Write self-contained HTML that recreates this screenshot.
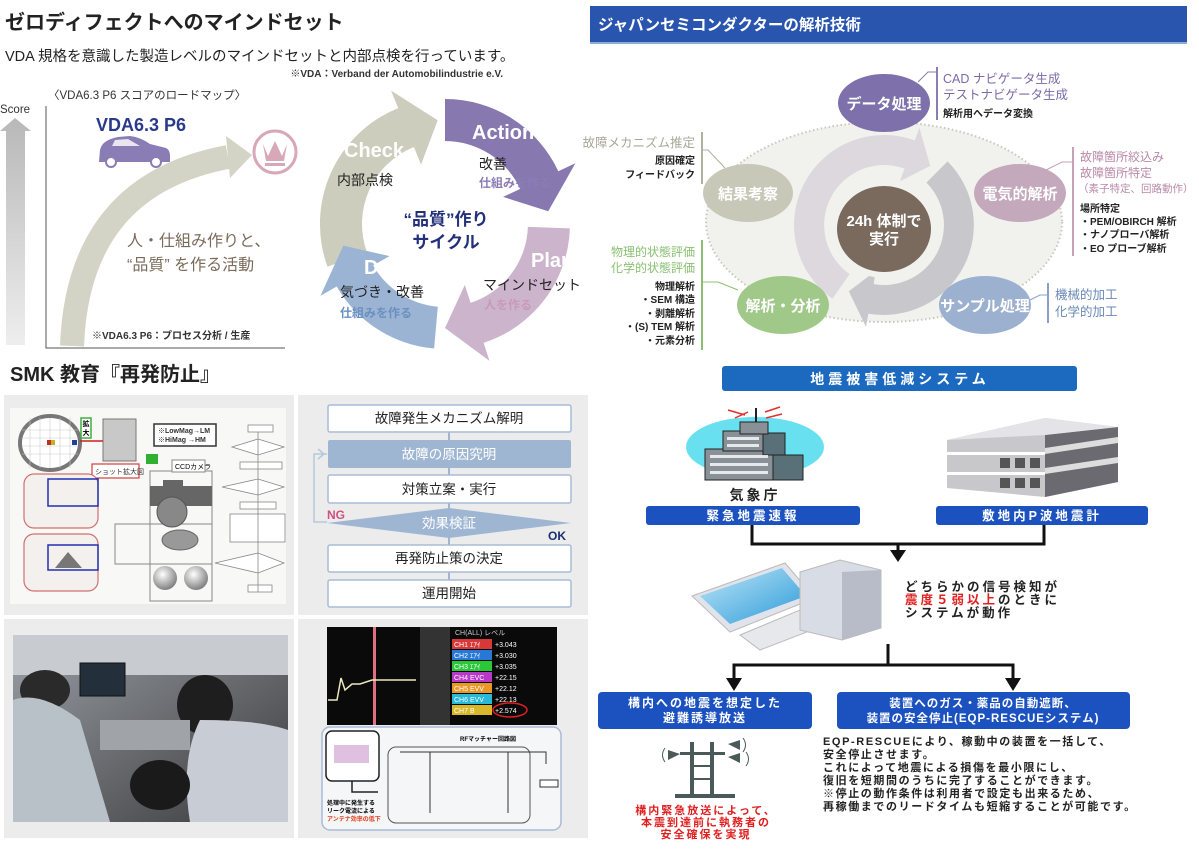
<!DOCTYPE html>
<html><head><meta charset="utf-8">
<style>
html,body{margin:0;padding:0;background:#fff;}
body{width:1199px;height:847px;overflow:hidden;position:relative;font-family:"Liberation Sans","Noto Sans CJK JP",sans-serif;}
svg text{font-family:"Liberation Sans","Noto Sans CJK JP",sans-serif;}
</style></head><body>
<svg id="s" width="1199" height="847" viewBox="0 0 1199 847" xmlns="http://www.w3.org/2000/svg">
<defs>
<linearGradient id="scoreg" x1="0" y1="0" x2="0" y2="1"><stop offset="0" stop-color="#b8b8b8"/><stop offset="1" stop-color="#eeeeee"/></linearGradient>
<linearGradient id="photo" x1="0" y1="0" x2="1" y2="1"><stop offset="0" stop-color="#9aa0a8"/><stop offset="0.5" stop-color="#6a6c70"/><stop offset="1" stop-color="#3a3a3c"/></linearGradient>
<radialGradient id="ball" cx="0.4" cy="0.35" r="0.7"><stop offset="0" stop-color="#fff"/><stop offset="1" stop-color="#777"/></radialGradient>
<linearGradient id="scr" x1="0" y1="0" x2="1" y2="1"><stop offset="0" stop-color="#bfe6f8"/><stop offset="1" stop-color="#2a9ad8"/></linearGradient>
</defs>

<text x="5" y="29" font-size="20" font-weight="bold" fill="#222">ゼロディフェクトへのマインドセット</text>
<text x="5" y="61" font-size="14.5" fill="#222">VDA 規格を意識した製造レベルのマインドセットと内部点検を行っています。</text>
<text x="503" y="77" font-size="10" font-weight="bold" fill="#333" text-anchor="end">※VDA：Verband der Automobilindustrie e.V.</text>
<text x="48" y="99" font-size="11.5" fill="#333">〈VDA6.3 P6 スコアのロードマップ〉</text>
<text x="0" y="113" font-size="11.5" fill="#333">Score</text>
<polygon points="15,118 31,131 25,131 25,345 6,345 6,131 0,131" fill="url(#scoreg)"/>
<polyline points="46,106 46,348 285,348" fill="none" stroke="#555" stroke-width="1"/>
<text x="96" y="131" font-size="18" font-weight="bold" fill="#2a3a8a">VDA6.3 P6</text>
<path d="M100,150 Q102,140 118,137 L130,136 Q140,137 150,144 L166,148 Q170,150 170,156 L170,162 L99,162 Z" fill="#8a7cb4"/>
<path d="M115,140 L128,139 L140,146 L112,146 Z" fill="#fff" opacity="0.8"/>
<circle cx="111" cy="162" r="5" fill="#fff" stroke="#8a7cb4" stroke-width="2"/>
<circle cx="156" cy="162" r="5" fill="#fff" stroke="#8a7cb4" stroke-width="2"/>
<path d="M72,346 Q78,185 228,157" fill="none" stroke="#d4d4c6" stroke-width="24"/>
<polygon points="226,136 252,155 230,178" fill="#d4d4c6"/>
<circle cx="275" cy="152" r="21" fill="none" stroke="#d8a8b8" stroke-width="3"/>
<path d="M263,144 L268,156 L275,141 L282,156 L287,144 L284,161 L266,161 Z" fill="#d8a8b8"/>
<rect x="265" y="163" width="20" height="3" fill="#d8a8b8"/>
<text x="127" y="246" font-size="16" fill="#7a6a5a">人・仕組み作りと、</text>
<text x="127" y="270" font-size="16" fill="#7a6a5a">“品質” を作る活動</text>
<text x="92" y="339" font-size="10" font-weight="bold" fill="#333">※VDA6.3 P6：プロセス分析 / 生産</text>

<g id="cyc"></g>
<text x="344" y="157" font-size="20" font-weight="bold" fill="#fff">Check</text>
<text x="472" y="139" font-size="20" font-weight="bold" fill="#fff">Action</text>
<text x="531" y="267" font-size="20" font-weight="bold" fill="#fff">Plan</text>
<text x="364" y="274" font-size="20" font-weight="bold" fill="#fff">Do</text>
<text x="337" y="185" font-size="14" fill="#222">内部点検</text>
<text x="479" y="169" font-size="14" fill="#222">改善</text>
<text x="479" y="187" font-size="12" font-weight="bold" fill="#8a7cb4">仕組みを作る</text>
<text x="483" y="290" font-size="14" fill="#222">マインドセット</text>
<text x="484" y="309" font-size="12" font-weight="bold" fill="#c89ab8">人を作る</text>
<text x="340" y="297" font-size="14" fill="#222">気づき・改善</text>
<text x="340" y="317" font-size="12" font-weight="bold" fill="#6a90c0">仕組みを作る</text>
<text x="446" y="225" font-size="17" font-weight="bold" fill="#23307a" text-anchor="middle">“品質”作り</text>
<text x="446" y="248" font-size="17" font-weight="bold" fill="#23307a" text-anchor="middle">サイクル</text>

<rect x="590" y="6" width="597" height="36" fill="#2a55ae"/>
<line x1="590" y1="43" x2="1187" y2="43" stroke="#2a55ae" stroke-width="1"/>
<text x="598" y="30" font-size="15.5" font-weight="bold" fill="#fff">ジャパンセミコンダクターの解析技術</text>
<ellipse cx="884" cy="222" rx="178" ry="100" fill="#f1f1ed" stroke="#c8c8c0" stroke-width="2" stroke-dasharray="1.5,2.5"/>
<g id="rot"></g>
<ellipse cx="884" cy="229" rx="53" ry="49" fill="#f1f1ed"/>
<ellipse cx="884" cy="229" rx="47" ry="43" fill="#7a6a5e"/>
<text x="884" y="226" font-size="15" font-weight="bold" fill="#fff" text-anchor="middle">24h 体制で</text>
<text x="884" y="244" font-size="15" font-weight="bold" fill="#fff" text-anchor="middle">実行</text>
<polyline points="918,82 928,72 937,72" fill="none" stroke="#8a7cb4"/>
<line x1="937" y1="67" x2="937" y2="120" stroke="#8a7cb4" stroke-width="2"/>
<polyline points="725,168 708,150 702,150" fill="none" stroke="#b0b0a0"/>
<line x1="702" y1="132" x2="702" y2="184" stroke="#b0b0a0" stroke-width="2"/>
<polyline points="1046,170 1062,162 1073,162" fill="none" stroke="#c8a0b8"/>
<line x1="1073" y1="147" x2="1073" y2="256" stroke="#c8a0b8" stroke-width="2"/>
<polyline points="738,290 718,282 702,282" fill="none" stroke="#8cc070"/>
<line x1="702" y1="240" x2="702" y2="350" stroke="#8cc070" stroke-width="2"/>
<polyline points="1030,300 1040,295 1048,295" fill="none" stroke="#8aa0c8"/>
<line x1="1048" y1="283" x2="1048" y2="323" stroke="#8aa0c8" stroke-width="2"/>
<ellipse cx="884" cy="103" rx="46" ry="29" fill="#7e70aa"/>
<text x="884" y="109" font-size="15" font-weight="bold" fill="#fff" text-anchor="middle">データ処理</text>
<ellipse cx="748" cy="193" rx="45" ry="29" fill="#c8c8b8"/>
<text x="748" y="199" font-size="15" font-weight="bold" fill="#fff" text-anchor="middle">結果考察</text>
<ellipse cx="1020" cy="193" rx="46" ry="29" fill="#c4a8bc"/>
<text x="1020" y="199" font-size="15" font-weight="bold" fill="#fff" text-anchor="middle">電気的解析</text>
<ellipse cx="783" cy="305" rx="46" ry="29" fill="#a0c888"/>
<text x="783" y="311" font-size="15" font-weight="bold" fill="#fff" text-anchor="middle">解析・分析</text>
<ellipse cx="985" cy="305" rx="46" ry="29" fill="#9cb0d0"/>
<text x="985" y="311" font-size="15" font-weight="bold" fill="#fff" text-anchor="middle">サンプル処理</text>
<text x="943" y="83" font-size="12.5" fill="#7a6aa8">CAD ナビゲータ生成</text>
<text x="943" y="99" font-size="12.5" fill="#7a6aa8">テストナビゲータ生成</text>
<text x="943" y="117" font-size="10" font-weight="bold" fill="#222">解析用へデータ変換</text>
<text x="695" y="147" font-size="12.5" fill="#a8a898" text-anchor="end">故障メカニズム推定</text>
<text x="695" y="164" font-size="10" font-weight="bold" fill="#222" text-anchor="end">原因確定</text>
<text x="695" y="178" font-size="10" font-weight="bold" fill="#222" text-anchor="end">フィードバック</text>
<text x="1080" y="161" font-size="12" fill="#b888a8">故障箇所絞込み</text>
<text x="1080" y="177" font-size="12" fill="#b888a8">故障箇所特定</text>
<text x="1078" y="192" font-size="10.5" fill="#b888a8">（素子特定、回路動作）</text>
<text x="1080" y="212" font-size="10" font-weight="bold" fill="#222">場所特定</text>
<text x="1080" y="225" font-size="10" font-weight="bold" fill="#222">・PEM/OBIRCH 解析</text>
<text x="1080" y="238" font-size="10" font-weight="bold" fill="#222">・ナノプローバ解析</text>
<text x="1080" y="252" font-size="10" font-weight="bold" fill="#222">・EO プローブ解析</text>
<text x="695" y="256" font-size="12" fill="#88c070" text-anchor="end">物理的状態評価</text>
<text x="695" y="272" font-size="12" fill="#88c070" text-anchor="end">化学的状態評価</text>
<text x="695" y="290" font-size="10" font-weight="bold" fill="#222" text-anchor="end">物理解析</text>
<text x="695" y="303" font-size="10" font-weight="bold" fill="#222" text-anchor="end">・SEM 構造</text>
<text x="695" y="317" font-size="10" font-weight="bold" fill="#222" text-anchor="end">・剥離解析</text>
<text x="695" y="330" font-size="10" font-weight="bold" fill="#222" text-anchor="end">・(S) TEM 解析</text>
<text x="695" y="344" font-size="10" font-weight="bold" fill="#222" text-anchor="end">・元素分析</text>
<text x="1055" y="299" font-size="12.5" fill="#6a88b8">機械的加工</text>
<text x="1055" y="316" font-size="12.5" fill="#6a88b8">化学的加工</text>

<text x="10" y="381" font-size="20" font-weight="bold" fill="#222">SMK 教育『再発防止』</text>
<rect x="4" y="395" width="290" height="220" fill="#ececec"/>
<rect x="298" y="395" width="290" height="220" fill="#ececec"/>
<rect x="4" y="619" width="290" height="219" fill="#ececec"/>
<rect x="298" y="619" width="290" height="219" fill="#ececec"/>
<rect x="10" y="408" width="276" height="196" fill="#f8f8f6"/>
<ellipse cx="50" cy="443" rx="30" ry="27" fill="#fff" stroke="#777" stroke-width="4"/>
<g stroke="#ccc" stroke-width="0.6">
<line x1="22" y1="430" x2="78" y2="430"/><line x1="22" y1="438" x2="78" y2="438"/><line x1="22" y1="446" x2="78" y2="446"/><line x1="22" y1="454" x2="78" y2="454"/>
<line x1="30" y1="418" x2="30" y2="468"/><line x1="40" y1="418" x2="40" y2="468"/><line x1="50" y1="418" x2="50" y2="468"/><line x1="60" y1="418" x2="60" y2="468"/><line x1="70" y1="418" x2="70" y2="468"/>
</g>
<rect x="47" y="440" width="4" height="5" fill="#c03020"/><rect x="51" y="440" width="4" height="5" fill="#c8b020"/><rect x="72" y="440" width="5" height="5" fill="#2040a0"/>
<rect x="81" y="418" width="10" height="20" fill="#fff" stroke="#40b040" stroke-width="1.5"/>
<text x="86" y="426" font-size="7" font-weight="bold" text-anchor="middle">拡</text><text x="86" y="435" font-size="7" font-weight="bold" text-anchor="middle">大</text>
<rect x="103" y="419" width="33" height="42" fill="#c8c8c8" stroke="#777"/>
<line x1="80" y1="441" x2="103" y2="441" stroke="#d02020" stroke-width="1.5"/>
<rect x="146" y="454" width="12" height="10" fill="#30b030"/>
<rect x="154" y="424" width="62" height="22" fill="#fff" stroke="#333" stroke-width="1.5"/>
<text x="158" y="433" font-size="7" font-weight="bold" fill="#333">※LowMag→LM</text>
<text x="158" y="442" font-size="7" font-weight="bold" fill="#333">※HiMag →HM</text>
<rect x="92" y="464" width="47" height="14" fill="#fff" stroke="#d04040" stroke-width="1.2"/>
<text x="95" y="474" font-size="7" fill="#333">ショット拡大図</text>
<rect x="24" y="474" width="74" height="54" rx="10" fill="#f4f0ee" stroke="#d07070" stroke-width="1.2"/>
<rect x="48" y="479" width="50" height="27" fill="none" stroke="#2030b0" stroke-width="1.5"/>
<rect x="24" y="534" width="74" height="57" rx="10" fill="#f4f0ee" stroke="#d07070" stroke-width="1.2"/>
<rect x="48" y="545" width="50" height="25" fill="none" stroke="#2030b0" stroke-width="1.5"/>
<polygon points="55,568 68,552 82,568" fill="#777"/>
<rect x="150" y="471" width="62" height="130" fill="none" stroke="#888"/>
<rect x="115" y="524" width="97" height="40" fill="none" stroke="#888"/>
<rect x="172" y="460" width="33" height="12" fill="#fff" stroke="#888"/>
<text x="175" y="469" font-size="7">CCDカメラ</text>
<rect x="150" y="486" width="62" height="20" fill="#666"/><rect x="163" y="480" width="20" height="36" fill="#666"/>
<circle cx="172" cy="512" r="15" fill="#888" stroke="#555"/>
<ellipse cx="180" cy="540" rx="18" ry="10" fill="#999" stroke="#666"/>
<circle cx="165" cy="578" r="12" fill="url(#ball)"/>
<circle cx="196" cy="578" r="12" fill="url(#ball)"/>
<g fill="#fff" stroke="#888" stroke-width="0.8">
<rect x="248" y="425" width="25" height="7"/>
<polygon points="232,447 258,439 284,447 258,455"/>
<rect x="240" y="462" width="42" height="7"/>
<polygon points="222,487 258,479 284,487 258,495"/>
<rect x="240" y="502" width="36" height="7"/>
<rect x="230" y="514" width="55" height="28"/>
<polygon points="215,563 258,553 284,563 258,573"/>
<rect x="248" y="585" width="24" height="7"/>
</g>
<line x1="258" y1="432" x2="258" y2="592" stroke="#888" stroke-width="0.8"/>
<line x1="449" y1="405" x2="449" y2="607" stroke="#9fb6d3" stroke-width="2"/>
<polyline points="327,522 314,522 314,454 327,454" fill="none" stroke="#b8c8d8" stroke-width="1.5"/>
<polyline points="318,449 324,454 318,459" fill="none" stroke="#b8c8d8" stroke-width="1.5"/>
<rect x="328" y="405" width="243" height="27" rx="2" fill="#fff" stroke="#a8bcd6" stroke-width="1.5"/>
<text x="449" y="423" font-size="13.5" fill="#222" text-anchor="middle">故障発生メカニズム解明</text>
<rect x="328" y="440" width="243" height="28" rx="2" fill="#9fb6d3"/>
<text x="449" y="459" font-size="13.5" fill="#fff" text-anchor="middle">故障の原因究明</text>
<rect x="328" y="475" width="243" height="28" rx="2" fill="#fff" stroke="#a8bcd6" stroke-width="1.5"/>
<text x="449" y="494" font-size="13.5" fill="#222" text-anchor="middle">対策立案・実行</text>
<polygon points="327,523 449,508 571,523 449,538" fill="#9fb6d3"/>
<text x="449" y="528" font-size="13.5" fill="#fff" text-anchor="middle">効果検証</text>
<text x="327" y="519" font-size="12" font-weight="bold" fill="#d05080">NG</text>
<text x="548" y="540" font-size="12" font-weight="bold" fill="#1a2e70">OK</text>
<rect x="328" y="545" width="243" height="27" rx="2" fill="#fff" stroke="#a8bcd6" stroke-width="1.5"/>
<text x="449" y="563" font-size="13.5" fill="#222" text-anchor="middle">再発防止策の決定</text>
<rect x="328" y="580" width="243" height="27" rx="2" fill="#fff" stroke="#a8bcd6" stroke-width="1.5"/>
<text x="449" y="598" font-size="13.5" fill="#222" text-anchor="middle">運用開始</text>
<rect x="13" y="635" width="275" height="187" fill="url(#photo)"/>
<rect x="13" y="635" width="275" height="40" fill="#c8ccd0"/>
<rect x="80" y="663" width="45" height="33" fill="#23303c" stroke="#111"/>
<ellipse cx="45" cy="690" rx="25" ry="20" fill="#2a2a2a"/>
<path d="M13,700 Q40,690 80,720 L110,822 L13,822 Z" fill="#b8c0c8"/>
<ellipse cx="205" cy="705" rx="28" ry="30" fill="#1e1e1e"/>
<path d="M200,720 Q260,720 288,730 L288,822 L190,822 Q180,760 200,720 Z" fill="#c8ccd4"/>
<ellipse cx="160" cy="785" rx="30" ry="25" fill="#1a1a1a"/>
<rect x="100" y="720" width="90" height="30" fill="#a0a4a8"/>
<rect x="327" y="627" width="230" height="98" fill="#0a0a0a"/>
<rect x="373" y="627" width="3" height="98" fill="#e07080"/>
<polyline points="328,700 337,700 341,678 345,690 352,684 360,684 372,680 416,680" fill="none" stroke="#f0e8c0" stroke-width="1.5"/>
<rect x="420" y="627" width="30" height="98" fill="#333"/>
<text x="455" y="635" font-size="7" fill="#ccc">CH(ALL)  レベル</text>
<g font-size="7" fill="#fff">
<rect x="452" y="639" width="40" height="10" fill="#d83838"/><text x="454" y="647">CH1 ｴｱｲ</text><text x="495" y="647">+3.043</text>
<rect x="452" y="650" width="40" height="10" fill="#2878d8"/><text x="454" y="658">CH2 ｴｱｲ</text><text x="495" y="658">+3.030</text>
<rect x="452" y="661" width="40" height="10" fill="#28c838"/><text x="454" y="669">CH3 ｴｱｲ</text><text x="495" y="669">+3.035</text>
<rect x="452" y="672" width="40" height="10" fill="#b838c8"/><text x="454" y="680">CH4 EVC</text><text x="495" y="680">+22.15</text>
<rect x="452" y="683" width="40" height="10" fill="#e89828"/><text x="454" y="691">CH5 EVV</text><text x="495" y="691">+22.12</text>
<rect x="452" y="694" width="40" height="10" fill="#28b8d8"/><text x="454" y="702">CH6 EVV</text><text x="495" y="702">+22.13</text>
<rect x="452" y="705" width="40" height="10" fill="#d8b828"/><text x="454" y="713">CH7 B</text><text x="495" y="713">+2.574</text>
</g>
<ellipse cx="510" cy="710" rx="17" ry="7" fill="none" stroke="#e02020" stroke-width="1.5"/>
<rect x="322" y="727" width="239" height="103" rx="8" fill="#f4f6f8" stroke="#a8bcd6" stroke-width="1.5"/>
<rect x="326" y="731" width="53" height="50" rx="6" fill="#fff" stroke="#222" stroke-width="1.5"/>
<rect x="334" y="745" width="35" height="18" fill="#e0c0e0"/>
<rect x="388" y="747" width="142" height="76" rx="8" fill="none" stroke="#555"/>
<polyline points="352,781 352,792 378,792" fill="none" stroke="#222" stroke-width="1.5"/>
<polyline points="400,752 546,752 546,764" fill="none" stroke="#333" stroke-width="1"/>
<polyline points="430,752 430,813" fill="none" stroke="#333"/>
<polyline points="508,752 508,813" fill="none" stroke="#333"/>
<text x="460" y="741" font-size="6" font-weight="bold">RFマッチャー回路図</text>
<text x="327" y="805" font-size="6" font-weight="bold">処理中に発生する</text>
<text x="327" y="813" font-size="6" font-weight="bold">リーク電流による</text>
<text x="327" y="821" font-size="6" font-weight="bold" fill="#e04020">アンテナ効率の低下</text>
<rect x="540" y="780" width="18" height="7" fill="#fff" stroke="#333"/>

<rect x="722" y="366" width="355" height="25" rx="3" fill="#1c6ac0"/>
<text x="900" y="384" font-size="14" font-weight="bold" fill="#fff" text-anchor="middle" letter-spacing="4">地震被害低減システム</text>
<ellipse cx="755" cy="447" rx="69" ry="30" fill="#68e0f0"/>
<rect x="705" y="449" width="68" height="31" fill="#8a9098" stroke="#222"/>
<rect x="773" y="455" width="30" height="25" fill="#5a7078" stroke="#222"/>
<rect x="723" y="431" width="40" height="20" fill="#8a9098" stroke="#222"/>
<rect x="763" y="433" width="22" height="22" fill="#5a7078" stroke="#222"/>
<rect x="740" y="422" width="28" height="12" fill="#8a9098" stroke="#222"/>
<line x1="756" y1="408" x2="756" y2="422" stroke="#222" stroke-width="2"/>
<g stroke="#e03030" stroke-width="1.5"><line x1="728" y1="410" x2="745" y2="415"/><line x1="735" y1="418" x2="748" y2="412"/><line x1="765" y1="412" x2="780" y2="407"/><line x1="766" y1="418" x2="782" y2="414"/></g>
<g fill="#fff" opacity="0.8"><rect x="710" y="455" width="58" height="3"/><rect x="710" y="463" width="58" height="3"/><rect x="710" y="471" width="58" height="3"/><rect x="727" y="437" width="32" height="3"/><rect x="727" y="444" width="32" height="3"/></g>
<text x="755" y="500" font-size="14" font-weight="bold" fill="#222" text-anchor="middle" letter-spacing="3">気象庁</text>
<polygon points="947,440 1045,418 1118,427 1118,482 1045,497 947,488" fill="#c8c8cc"/>
<polygon points="1045,435 1118,427 1118,482 1045,497" fill="#6a6a70"/>
<polygon points="947,440 1045,418 1118,427 1045,435" fill="#e4e4e8"/>
<g fill="#ddd"><polygon points="1045,448 1118,437 1118,443 1045,454"/><polygon points="1045,468 1118,457 1118,463 1045,474"/></g>
<g fill="#555"><rect x="1000" y="458" width="10" height="10"/><rect x="1015" y="458" width="10" height="10"/><rect x="1030" y="458" width="10" height="10"/><rect x="1000" y="478" width="10" height="10"/><rect x="1015" y="478" width="10" height="10"/><rect x="1030" y="478" width="10" height="10"/></g>
<g fill="#fff"><rect x="947" y="452" width="98" height="3"/><rect x="947" y="472" width="98" height="3"/></g>
<rect x="646" y="506" width="214" height="19" rx="3" fill="#1c52c0"/>
<text x="753" y="520" font-size="12.5" font-weight="bold" fill="#fff" text-anchor="middle" letter-spacing="3">緊急地震速報</text>
<rect x="936" y="506" width="212" height="19" rx="3" fill="#1c52c0"/>
<text x="1042" y="520" font-size="12.5" font-weight="bold" fill="#fff" text-anchor="middle" letter-spacing="3">敷地内P波地震計</text>
<polyline points="752,525 752,544 1044,544 1044,525" fill="none" stroke="#111" stroke-width="3"/>
<line x1="898" y1="544" x2="898" y2="552" stroke="#111" stroke-width="3"/>
<polygon points="890,550 906,550 898,562" fill="#111"/>
<polygon points="692,596 785,563 815,598 730,632" fill="#e0e4ea" stroke="#bbb"/>
<polygon points="700,596 782,568 806,596 730,624" fill="url(#scr)"/>
<polygon points="740,635 800,610 825,625 760,650" fill="#e6e8ec" stroke="#bbb"/>
<polygon points="800,572 840,560 881,570 881,628 842,640 800,630" fill="#d8dce4" stroke="#bbb"/>
<polygon points="842,572 881,570 881,628 842,640" fill="#b8bcc8"/>
<text x="905" y="591" font-size="12.5" font-weight="bold" fill="#222" letter-spacing="3">どちらかの信号検知が</text>
<text x="905" y="604" font-size="12.5" font-weight="bold" letter-spacing="3"><tspan fill="#e02020">震度５弱以上</tspan><tspan fill="#222">のときに</tspan></text>
<text x="905" y="617" font-size="12.5" font-weight="bold" fill="#222" letter-spacing="3">システムが動作</text>
<line x1="888" y1="644" x2="888" y2="665" stroke="#111" stroke-width="3"/>
<polyline points="734,680 734,665 1013,665 1013,680" fill="none" stroke="#111" stroke-width="3"/>
<polygon points="726,678 742,678 734,691" fill="#111"/>
<polygon points="1005,678 1021,678 1013,691" fill="#111"/>
<rect x="598" y="692" width="214" height="37" rx="4" fill="#1c52c0"/>
<text x="705" y="707" font-size="12" font-weight="bold" fill="#fff" text-anchor="middle" letter-spacing="2">構内への地震を想定した</text>
<text x="705" y="722" font-size="12" font-weight="bold" fill="#fff" text-anchor="middle" letter-spacing="2">避難誘導放送</text>
<rect x="837" y="692" width="293" height="37" rx="4" fill="#1c52c0"/>
<text x="983" y="707" font-size="11.5" font-weight="bold" fill="#fff" text-anchor="middle" letter-spacing="1">装置へのガス・薬品の自動遮断、</text>
<text x="983" y="722" font-size="11.5" font-weight="bold" fill="#fff" text-anchor="middle" letter-spacing="1">装置の安全停止(EQP-RESCUEシステム)</text>
<g fill="#4a5a58">
<rect x="675" y="794" width="60" height="4"/>
<rect x="690" y="742" width="4" height="54"/><rect x="710" y="742" width="4" height="54"/>
<rect x="680" y="752" width="45" height="3"/><rect x="692" y="765" width="20" height="2"/><rect x="692" y="778" width="20" height="2"/>
<polygon points="728,744 740,740 740,750"/><polygon points="728,757 740,753 740,763"/><polygon points="680,754 668,750 668,760"/>
</g>
<g fill="none" stroke="#4a5a58" stroke-width="1"><path d="M743,738 Q748,745 743,752"/><path d="M746,752 Q751,759 746,766"/><path d="M665,748 Q660,755 665,762"/></g>
<text x="706" y="814" font-size="11" font-weight="bold" fill="#e02020" text-anchor="middle" letter-spacing="2">構内緊急放送によって、</text>
<text x="706" y="826" font-size="11" font-weight="bold" fill="#e02020" text-anchor="middle" letter-spacing="2">本震到達前に執務者の</text>
<text x="706" y="838" font-size="11" font-weight="bold" fill="#e02020" text-anchor="middle" letter-spacing="2">安全確保を実現</text>
<g font-size="11" font-weight="bold" fill="#222" letter-spacing="1.6">
<text x="823" y="745">EQP-RESCUEにより、稼動中の装置を一括して、</text>
<text x="823" y="758">安全停止させます。</text>
<text x="823" y="771">これによって地震による損傷を最小限にし、</text>
<text x="823" y="784">復旧を短期間のうちに完了することができます。</text>
<text x="823" y="797">※停止の動作条件は利用者で設定も出来るため、</text>
<text x="823" y="810">再稼働までのリードタイムも短縮することが可能です。</text>
</g>
</svg>
<script>
function P(cx,cy,r,a){a=a*Math.PI/180;return (cx+r*Math.cos(a)).toFixed(1)+","+(cy+r*Math.sin(a)).toFixed(1);}
function arc(cx,cy,r,w,a0,a1,hl,col){
 var ro=r+w/2,ri=r-w/2,lg=(a1-a0)>180?1:0;
 var d="M"+P(cx,cy,ro,a0)+" A"+ro+","+ro+" 0 "+lg+" 1 "+P(cx,cy,ro,a1)+" L"+P(cx,cy,r+w*0.95,a1)+" L"+P(cx,cy,r,a1+hl)+" L"+P(cx,cy,r-w*0.95,a1)+" L"+P(cx,cy,ri,a1)+" A"+ri+","+ri+" 0 "+lg+" 0 "+P(cx,cy,ri,a0)+" Z";
 return '<path d="'+d+'" fill="'+col+'"/>';
}
var c=document.getElementById('cyc');
c.innerHTML=arc(445,224,104,42,160,248,18,'#cdcdbd')+arc(445,224,104,42,270,335,18,'#8878b0')+arc(445,224,104,42,2,72,18,'#ccb4cc')+arc(445,224,104,42,95,150,18,'#9cb4d4');
var r=document.getElementById('rot');
r.innerHTML=arc(884,225,75,30,125,290,18,'#ddd8de')+arc(884,225,75,30,315,100+360,18,'#c8c8cc');
</script>
</body></html>
